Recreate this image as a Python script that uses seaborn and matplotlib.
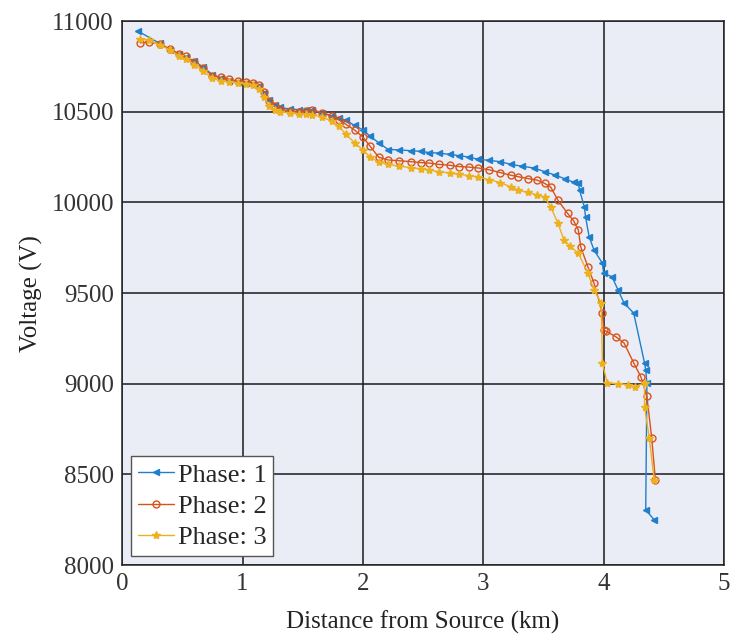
import matplotlib
matplotlib.use("Agg")
import matplotlib.pyplot as plt
import seaborn as sns
import pandas as pd

# distance (km) / voltage (V) per phase
dist1 = [0.13, 0.31, 0.40, 0.47, 0.53, 0.60, 0.67, 0.75, 0.82, 0.89, 0.96, 1.03, 1.09, 1.14, 1.18,
         1.22, 1.27, 1.31, 1.39, 1.47, 1.53, 1.58, 1.66, 1.74, 1.80, 1.86, 1.93, 2.00, 2.06, 2.13,
         2.21, 2.30, 2.40, 2.48, 2.55, 2.63, 2.72, 2.80, 2.88, 2.96, 3.05, 3.14, 3.23, 3.32, 3.42,
         3.51, 3.60, 3.68, 3.75, 3.79, 3.80, 3.84, 3.85, 3.88, 3.92, 3.99, 4.00, 4.07, 4.12, 4.17,
         4.25, 4.34, 4.35, 4.36, 4.35, 4.42]
volt1 = [10945, 10878, 10840, 10820, 10802, 10780, 10747, 10705, 10685, 10670, 10662, 10660, 10655, 10640, 10605,
         10565, 10540, 10525, 10515, 10512, 10510, 10508, 10495, 10478, 10466, 10452, 10425, 10400, 10365, 10330,
         10292, 10290, 10285, 10282, 10275, 10272, 10265, 10258, 10250, 10238, 10232, 10225, 10210, 10200, 10190,
         10170, 10150, 10130, 10112, 10105, 10068, 9976, 9920, 9810, 9738, 9665, 9610, 9590, 9517, 9445,
         9390, 9115, 9075, 9005, 8305, 8250]

dist2 = [0.15, 0.22, 0.31, 0.40, 0.47, 0.53, 0.60, 0.67, 0.75, 0.82, 0.89, 0.96, 1.03, 1.09, 1.14,
         1.18, 1.22, 1.27, 1.31, 1.39, 1.47, 1.53, 1.58, 1.66, 1.74, 1.80, 1.86, 1.93, 2.00, 2.06,
         2.13, 2.21, 2.30, 2.40, 2.48, 2.55, 2.63, 2.72, 2.80, 2.88, 2.96, 3.05, 3.14, 3.23, 3.29,
         3.37, 3.45, 3.51, 3.56, 3.62, 3.70, 3.75, 3.79, 3.81, 3.87, 3.92, 3.99, 4.00, 4.02, 4.10,
         4.17, 4.25, 4.31, 4.36, 4.40, 4.43]
volt2 = [10880, 10885, 10875, 10845, 10820, 10805, 10775, 10740, 10700, 10690, 10680, 10668, 10665, 10660, 10650,
         10610, 10560, 10530, 10515, 10505, 10500, 10505, 10510, 10495, 10475, 10455, 10430, 10400, 10360, 10310,
         10250, 10234, 10230, 10225, 10220, 10217, 10210, 10205, 10198, 10195, 10190, 10180, 10165, 10150, 10142,
         10132, 10123, 10105, 10085, 10013, 9940, 9900, 9848, 9755, 9644, 9556, 9390, 9297, 9290, 9260,
         9225, 9115, 9038, 8930, 8700, 8470]

dist3 = [0.15, 0.22, 0.31, 0.40, 0.47, 0.53, 0.60, 0.67, 0.75, 0.82, 0.89, 0.96, 1.03, 1.09, 1.14,
         1.18, 1.22, 1.27, 1.31, 1.39, 1.47, 1.53, 1.58, 1.66, 1.74, 1.80, 1.86, 1.93, 2.00, 2.06,
         2.13, 2.21, 2.30, 2.40, 2.48, 2.55, 2.63, 2.72, 2.80, 2.88, 2.96, 3.05, 3.14, 3.23, 3.29,
         3.37, 3.45, 3.51, 3.56, 3.62, 3.67, 3.72, 3.79, 3.87, 3.92, 3.98, 3.99, 4.03, 4.12, 4.20,
         4.26, 4.34, 4.34, 4.38, 4.42]
volt3 = [10900, 10895, 10870, 10840, 10810, 10790, 10760, 10725, 10685, 10670, 10665, 10660, 10655, 10645, 10625,
         10580, 10530, 10510, 10500, 10495, 10490, 10488, 10485, 10470, 10450, 10420, 10375, 10330, 10289, 10250,
         10223, 10210, 10200, 10192, 10185, 10179, 10170, 10162, 10155, 10148, 10140, 10125, 10110, 10085, 10068,
         10055, 10041, 10030, 9975, 9887, 9793, 9760, 9720, 9610, 9517, 9445, 9115, 9005, 9000, 8995,
         8983, 9005, 8873, 8700, 8470]

phase_labels = ["Phase: 1", "Phase: 2", "Phase: 3"]
x_ticks = [0, 1, 2, 3, 4, 5]
y_ticks = [8000, 8500, 9000, 9500, 10000, 10500, 11000]

sns.set_style("white")
plt.rcParams["font.family"] = ["Liberation Serif", "DejaVu Serif"]

fig = plt.figure(figsize=(7.32, 6.40), dpi=100)
ax = fig.add_axes([0.167, 0.117, 0.822, 0.850])
ax.set_facecolor("#eaedf5")

series = [(dist1, volt1), (dist2, volt2), (dist3, volt3)]
colors = ["#1f7fcc", "#d95319", "#edb120"]
markers = ["<", "o", "*"]
for (d, v), lab, c, m in zip(series, phase_labels, colors, markers):
    df = pd.DataFrame({"dist": d, "volt": v})
    face = "none" if m == "o" else c
    sns.lineplot(data=df, x="dist", y="volt", sort=False, estimator=None, ax=ax,
                 color=c, lw=1.0, marker=m, markersize=5 if m != "*" else 6,
                 markerfacecolor=face, markeredgecolor=c, markeredgewidth=1.0,
                 label=lab)

ax.set_xlim(0, 5)
ax.set_ylim(8000, 11000)
ax.set_xticks(x_ticks)
ax.set_yticks(y_ticks)
ax.grid(True, color="#1a1a1a", lw=1.1)
ax.set_axisbelow(True)
for s in ax.spines.values():
    s.set_color("#222222")
    s.set_linewidth(1.1)
ax.tick_params(labelsize=18, length=4, direction="in", colors="#333333", pad=6)
ax.set_xlabel("Distance from Source (km)", fontsize=18, color="#222222", labelpad=11)
ax.set_ylabel("Voltage (V)", fontsize=18, color="#222222", labelpad=6)

leg = ax.legend(loc="lower left", fontsize=19, frameon=True, fancybox=False,
                handlelength=1.35, handletextpad=0.15, borderpad=0.25,
                labelspacing=0.3, borderaxespad=0.35)
leg.get_frame().set_edgecolor("#555555")
leg.get_frame().set_facecolor("white")
leg.get_frame().set_alpha(1.0)

fig.savefig("out.png", dpi=100)
